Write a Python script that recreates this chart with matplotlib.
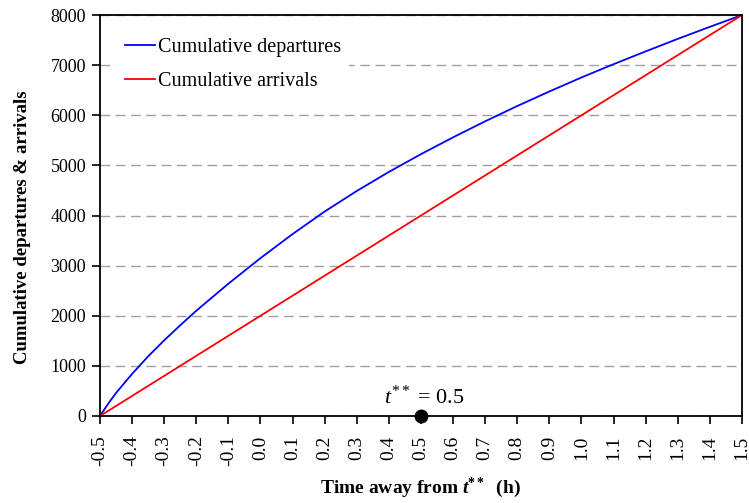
import matplotlib.pyplot as plt
import numpy as np

# values
dep_x = [-0.5, -0.475, -0.45, -0.4, -0.35, -0.3, -0.25, -0.2, -0.1, 0.0, 0.1, 0.2, 0.3, 0.4,
         0.5, 0.6, 0.7, 0.8, 0.9, 1.0, 1.1, 1.2, 1.3, 1.4, 1.5]
dep_y = [0, 240, 460, 840, 1190, 1510, 1810, 2100, 2640, 3150, 3630, 4080, 4490, 4870,
         5225, 5560, 5880, 6185, 6475, 6755, 7020, 7275, 7525, 7765, 8000]
arr_x = [-0.5, 1.5]
arr_y = [0, 8000]
t_star = 0.5
x_ticks = [round(-0.5 + 0.1 * i, 1) for i in range(21)]
y_ticks = [0, 1000, 2000, 3000, 4000, 5000, 6000, 7000, 8000]

plt.rcParams['font.family'] = ['Liberation Serif', 'DejaVu Serif']
plt.rcParams['mathtext.fontset'] = 'custom'
plt.rcParams['mathtext.rm'] = 'Liberation Serif'
plt.rcParams['mathtext.it'] = 'Liberation Serif:italic'
plt.rcParams['mathtext.bf'] = 'Liberation Serif:bold'
plt.rcParams['mathtext.bfit'] = 'Liberation Serif:bold:italic'

fig = plt.figure(figsize=(7.49, 5.03), dpi=100)
ax = fig.add_axes([0.1335, 0.173, 0.857, 0.797])

ax.plot(dep_x, dep_y, color='#0000ff', lw=1.3, label='Cumulative departures')
ax.plot(arr_x, arr_y, color='#ff0000', lw=1.3, label='Cumulative arrivals')
ax.plot([t_star], [0], 'o', color='black', ms=9, clip_on=False, zorder=5)
ax.annotate(r'$t^{**}$ = 0.5', (t_star, 0), textcoords='offset points', xytext=(2, 5),
            ha='center', va='bottom', fontsize=16)

ax.set_xlim(-0.5, 1.5)
ax.set_ylim(0, 8000)
ax.set_xticks(x_ticks)
ax.set_xticklabels([f"{v:.1f}" for v in x_ticks], rotation=90)
ax.set_yticks(y_ticks)
ax.set_yticklabels([str(v) for v in y_ticks])
ax.tick_params(direction='out', length=6, width=1.2, color='black')
ax.tick_params(axis='x', labelsize=14, pad=8)
ax.tick_params(axis='y', labelsize=13, pad=4)
ax.yaxis.grid(True, linestyle=(0, (7, 4)), color='#a0a0a0', lw=1.0)
ax.set_axisbelow(True)
for s in ax.spines.values():
  s.set_linewidth(1.3)

ax.set_xlabel(r'Time away from $\mathbfit{t}^{\mathbf{**}}$  (h)', fontsize=14, fontweight='bold', labelpad=7)
ax.set_ylabel('Cumulative departures & arrivals', fontsize=13.5, fontweight='bold')
ax.yaxis.set_label_coords(-0.108, 0.47)

leg = ax.legend(loc='upper left', bbox_to_anchor=(0.01, 0.988), fontsize=14.5, handlelength=1.5,
                handletextpad=0.15, labelspacing=0.75, borderpad=0.4, fancybox=False,
                frameon=True, framealpha=1.0, edgecolor='none', facecolor='white')

plt.savefig('out.png', dpi=100)
